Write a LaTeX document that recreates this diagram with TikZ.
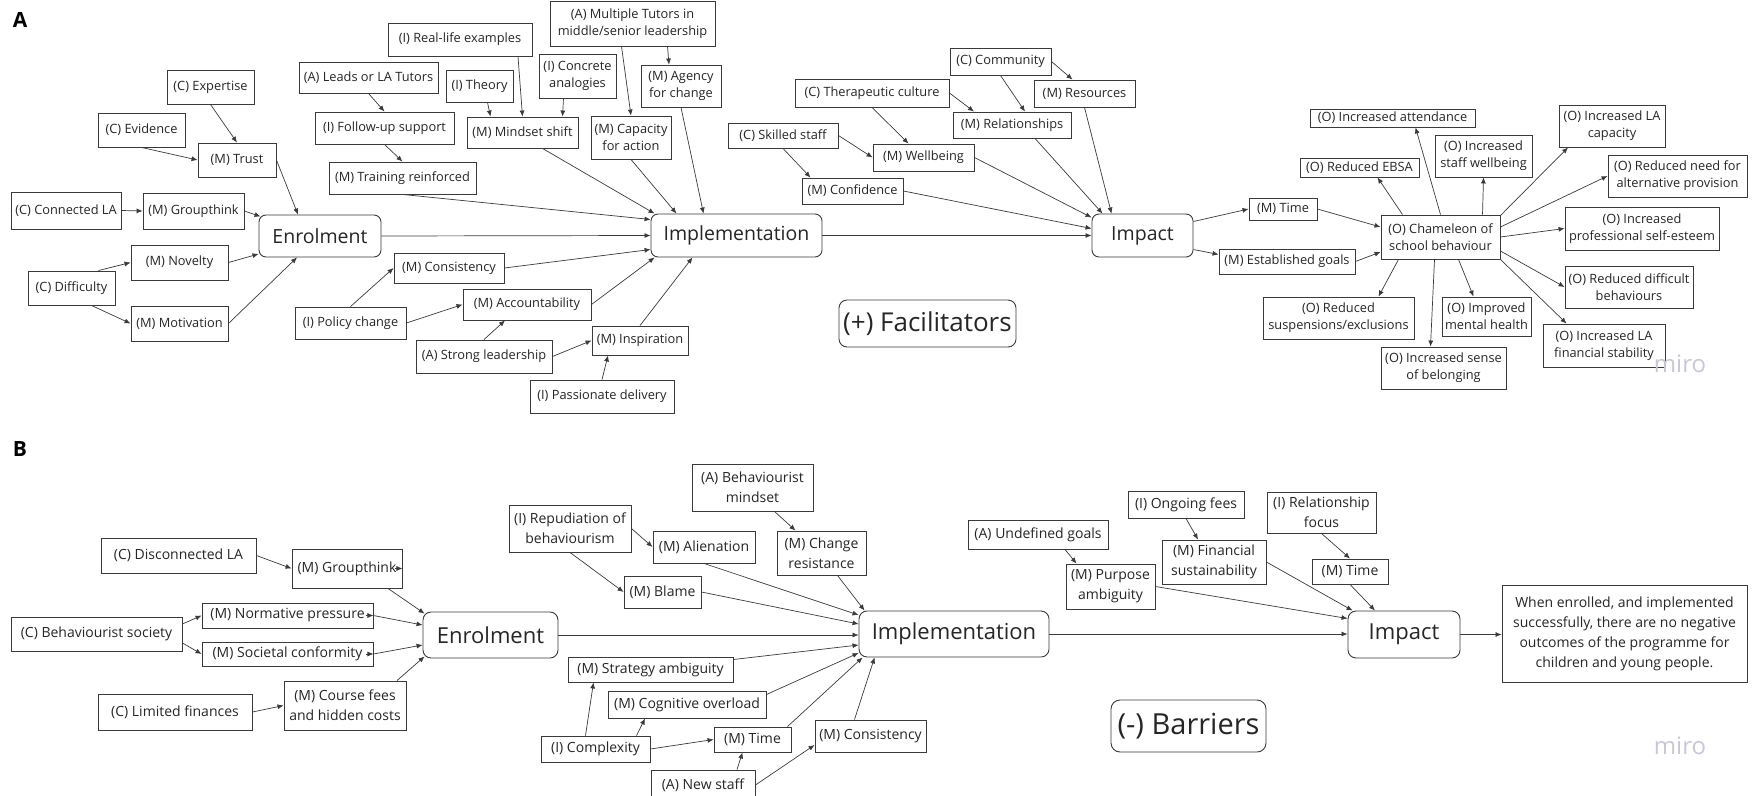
\documentclass[tikz,border=0pt]{standalone}
\usepackage{fontspec}
\setmainfont{Open Sans}
\usetikzlibrary{arrows.meta}
\definecolor{ln}{HTML}{3A3A3A}
\definecolor{tx}{HTML}{262626}
\definecolor{mirocol}{HTML}{C8C8D4}
\newcommand\fA{\fontsize{12.8}{17}\selectfont}
\newcommand\fB{\fontsize{14}{20}\selectfont}
\newcommand\mkbox[7]{\node[#2, minimum width={(#5-#3)*1pt}, minimum height={(#6-#4)*1pt}] (#1) at ({(#3+#5)/2},{(#4+#6)/2}) {#7};}
\tikzset{
 box/.style={draw=ln, line width=0.9pt, fill=white, text=tx, inner sep=1pt, align=center, font=\fA},
 boxb/.style={box, font=\fB},
 big/.style={box, rounded corners=7pt, font=\fontsize{19.5}{22}\selectfont},
 bigb/.style={box, rounded corners=8pt, font=\fontsize{22}{24}\selectfont},
 lbl/.style={box, rounded corners=8pt, font=\fontsize{26}{28}\selectfont},
 lblb/.style={box, rounded corners=9pt, font=\fontsize{29}{31}\selectfont},
 arr/.style={draw=ln, line width=0.7pt, -{Latex[length=6pt,width=5pt]}},
 wm/.style={text=mirocol, font=\fontsize{24}{24}\selectfont},
 sec/.style={text=black, font=\fontsize{21}{21}\selectfont\bfseries},
}
\begin{document}
\begin{tikzpicture}[x=1pt,y=-1pt]
\useasboundingbox (0,0) rectangle (1752,795);
% ---------------- Section A ----------------
\node[sec] (labA) at (20,20) {A};
\mkbox{expA}{box}{167}{70}{254}{104}{(C) Expertise}
\mkbox{evidA}{box}{98}{113}{185}{147}{(C) Evidence}
\mkbox{trustA}{box}{198}{143}{276}{177}{(M) Trust}
\mkbox{connA}{box}{11}{192}{121}{229}{(C) Connected LA}
\mkbox{groupA}{box}{143}{193}{244}{229}{(M) Groupthink}
\mkbox{enrolA}{big}{259}{215}{381}{257}{Enrolment}
\mkbox{novA}{box}{131}{245}{228}{280}{(M) Novelty}
\mkbox{diffA}{box}{28}{271}{115}{305}{(C) Difficulty}
\mkbox{motA}{box}{131}{306}{228}{341}{(M) Motivation}
\mkbox{leadsA}{box}{299}{62}{438}{93}{(A) Leads or LA Tutors}
\mkbox{followA}{box}{315}{112}{454}{144}{(I) Follow-up support}
\mkbox{trainA}{box}{329}{162}{476}{194}{(M) Training reinforced}
\mkbox{realA}{box}{388}{23}{532}{56}{(I) Real-life examples}
\mkbox{theoryA}{box}{446}{70}{513}{102}{(I) Theory}
\mkbox{concA}{box}{539}{54}{616}{98}{(I) Concrete\\analogies}
\mkbox{multiA}{box}{550}{1}{715}{46}{(A) Multiple Tutors in\\middle/senior leadership}
\mkbox{agencyA}{box}{641}{65}{721}{107}{(M) Agency\\for change}
\mkbox{mindA}{box}{467}{117}{578}{148}{(M) Mindset shift}
\mkbox{capA}{box}{591}{116}{671}{159}{(M) Capacity\\for action}
\mkbox{implA}{big}{651}{214}{822}{257}{Implementation}
\mkbox{consA}{box}{394}{253}{504}{283}{(M) Consistency}
\mkbox{policyA}{box}{295}{307}{406}{339}{(I) Policy change}
\mkbox{accA}{box}{463}{289}{591}{320}{(M) Accountability}
\mkbox{strongA}{box}{416}{340}{552}{373}{(A) Strong leadership}
\mkbox{inspA}{box}{592}{326}{688}{355}{(M) Inspiration}
\mkbox{passA}{box}{530}{380}{674}{413}{(I) Passionate delivery}
\mkbox{commA}{box}{950}{48}{1051}{75}{(C) Community}
\mkbox{resA}{box}{1034}{80}{1135}{107}{(M) Resources}
\mkbox{therA}{box}{795}{79}{949}{107}{(C) Therapeutic culture}
\mkbox{relA}{box}{953}{112}{1071}{138}{(M) Relationships}
\mkbox{skillA}{box}{728}{123}{838}{148}{(C) Skilled staff}
\mkbox{wellA}{box}{873}{144}{974}{171}{(M) Wellbeing}
\mkbox{confA}{box}{802}{178}{903}{204}{(M) Confidence}
\mkbox{impactA}{big}{1092}{214}{1193}{257}{Impact}
\mkbox{timeA}{box}{1249}{198}{1317}{220}{(M) Time}
\mkbox{estA}{box}{1219}{249}{1355}{274}{(M) Established goals}
\mkbox{chamA}{box}{1381}{215}{1500}{259}{(O) Chameleon of\\school behaviour}
\mkbox{attA}{box}{1310}{109}{1475}{127}{(O) Increased attendance}
\mkbox{ebsaA}{box}{1300}{158}{1419}{177}{(O) Reduced EBSA}
\mkbox{swellA}{box}{1435}{135}{1532}{177}{(O) Increased\\staff wellbeing}
\mkbox{lacapA}{box}{1559}{105}{1665}{147}{(O) Increased LA\\capacity}
\mkbox{needA}{box}{1608}{155}{1747}{197}{(O) Reduced need for\\alternative provision}
\mkbox{profA}{box}{1565}{207}{1719}{250}{(O) Increased\\professional self-esteem}
\mkbox{diffbA}{box}{1565}{266}{1693}{308}{(O) Reduced difficult\\behaviours}
\mkbox{suspA}{box}{1263}{297}{1414}{339}{(O) Reduced\\suspensions/exclusions}
\mkbox{mentA}{box}{1442}{297}{1531}{336}{(O) Improved\\mental health}
\mkbox{finA}{box}{1543}{324}{1665}{367}{(O) Increased LA\\financial stability}
\mkbox{belA}{box}{1381}{347}{1506}{389}{(O) Increased sense\\of belonging}
\mkbox{facil}{lbl}{839}{300}{1016}{347}{(+) Facilitators}
\node[wm] (miroA) at (1680,364) {miro};
% edges A
\draw[arr] (expA.south) -- (trustA.north);
\draw[arr] (evidA.south) -- (trustA.west);
\draw[arr] (trustA.east) -- ([xshift=-22pt]enrolA.north);
\draw[arr] (connA.east) -- (groupA.west);
\draw[arr] (groupA.east) -- ([xshift=2pt,yshift=-2pt]enrolA.north west);
\draw[arr] ([xshift=27pt]diffA.north) -- (novA.west);
\draw[arr] ([xshift=20pt]diffA.south) -- (motA.west);
\draw[arr] (novA.east) -- ([yshift=-18pt]enrolA.west);
\draw[arr] (motA.east) -- ([xshift=-23pt]enrolA.south);
\draw[arr] (enrolA.east) -- (implA.west);
\draw[arr] (leadsA.south) -- (followA.north);
\draw[arr] (followA.south) -- (trainA.north);
\draw[arr] (trainA.south) -- ([yshift=16pt]implA.west);
\draw[arr] ([xshift=8pt]theoryA.south) -- ([xshift=-32pt]mindA.north);
\draw[arr] ([xshift=58pt]realA.south) -- (mindA.north);
\draw[arr] ([xshift=-14pt]concA.south) -- ([xshift=40pt]mindA.north);
\draw[arr] ([xshift=20pt]mindA.south) -- ([xshift=4pt]implA.north west);
\draw[arr] ([xshift=-11pt]multiA.south) -- (capA.north);
\draw[arr] ([xshift=35pt]multiA.south) -- ([xshift=-12pt]agencyA.north);
\draw[arr] (capA.south) -- ([xshift=-60pt]implA.north);
\draw[arr] (agencyA.south) -- ([xshift=-33pt]implA.north);
\draw[arr] (policyA.north) -- (consA.west);
\draw[arr] (policyA.east) -- (accA.west);
\draw[arr] (consA.east) -- ([yshift=-14pt]implA.west);
\draw[arr] (accA.east) -- ([xshift=4pt]implA.south west);
\draw[arr] (strongA.north) -- ([xshift=-22pt]accA.south);
\draw[arr] (strongA.east) -- (inspA.west);
\draw[arr] (passA.north) -- ([xshift=-32pt]inspA.south);
\draw[arr] (inspA.north) -- ([xshift=-44pt]implA.south);
\draw[arr] (implA.east) -- (impactA.west);
\draw[arr] (skillA.east) -- (wellA.west);
\draw[arr] (skillA.south) -- ([xshift=-42pt]confA.north);
\draw[arr] (therA.south) -- ([xshift=-15pt]wellA.north);
\draw[arr] (therA.east) -- ([xshift=-38pt]relA.north);
\draw[arr] (commA.south) -- ([xshift=13pt]relA.north);
\draw[arr] (commA.east) -- ([xshift=-12pt]resA.north);
\draw[arr] (confA.east) -- ([yshift=7pt]impactA.west);
\draw[arr] (wellA.east) -- ([yshift=18pt]impactA.west);
\draw[arr] ([xshift=23pt]relA.south) -- ([xshift=-40pt]impactA.north);
\draw[arr] (resA.south) -- ([xshift=-31pt]impactA.north);
\draw[arr] ([yshift=14pt]impactA.east) -- (timeA.west);
\draw[arr] ([yshift=-14pt]impactA.east) -- ([yshift=7pt]estA.west);
\draw[arr] (timeA.east) -- ([yshift=10pt]chamA.west);
\draw[arr] (estA.east) -- ([yshift=-15pt]chamA.west);
\draw[arr] ([xshift=-38pt]chamA.north) -- ([xshift=18pt]ebsaA.south);
\draw[arr] (chamA.north) -- ([xshift=23pt]attA.south);
\draw[arr] ([xshift=42pt]chamA.north) -- (swellA.south);
\draw[arr] ([yshift=-1pt]chamA.north east) -- ([xshift=-44pt]lacapA.south);
\draw[arr] ([yshift=10pt]chamA.east) -- (needA.west);
\draw[arr] (chamA.east) -- (profA.west);
\draw[arr] ([yshift=-14pt]chamA.east) -- (diffbA.west);
\draw[arr] (chamA.south east) -- ([xshift=24pt]finA.north west);
\draw[arr] ([xshift=18pt]chamA.south) -- ([xshift=-13pt]mentA.north);
\draw[arr] ([xshift=-6pt]chamA.south) -- ([xshift=-13pt]belA.north);
\draw[arr] ([xshift=-42pt]chamA.south) -- ([xshift=40pt]suspA.north);
% ---------------- Section B ----------------
\node[sec] (labB) at (20,449) {B};
\mkbox{discB}{boxb}{101}{538}{256}{573}{(C) Disconnected LA}
\mkbox{groupB}{boxb}{292}{549}{402}{588}{(M) Groupthink}
\mkbox{normB}{boxb}{202}{603}{373}{628}{(M) Normative pressure}
\mkbox{behB}{boxb}{11}{617}{182}{651}{(C) Behaviourist society}
\mkbox{socB}{boxb}{202}{642}{373}{666}{(M) Societal conformity}
\mkbox{limB}{boxb}{98}{694}{252}{730}{(C) Limited finances}
\mkbox{feesB}{boxb}{284}{681}{406}{730}{(M) Course fees\\and hidden costs}
\mkbox{enrolB}{bigb}{423}{612}{558}{658}{Enrolment}
\mkbox{bmindB}{boxb}{692}{464}{813}{511}{(A) Behaviourist\\mindset}
\mkbox{repB}{boxb}{509}{505}{631}{552}{(I) Repudiation of\\behaviourism}
\mkbox{alienB}{boxb}{653}{531}{755}{563}{(M) Alienation}
\mkbox{changeB}{boxb}{777}{531}{866}{575}{(M) Change\\resistance}
\mkbox{blameB}{boxb}{624}{576}{701}{608}{(M) Blame}
\mkbox{implB}{bigb}{859}{611}{1049}{657}{Implementation}
\mkbox{stratB}{boxb}{568}{657}{733}{682}{(M) Strategy ambiguity}
\mkbox{cogB}{boxb}{608}{691}{766}{718}{(M) Cognitive overload}
\mkbox{complB}{boxb}{541}{736}{650}{762}{(I) Complexity}
\mkbox{timeB}{boxb}{714}{727}{791}{752}{(M) Time}
\mkbox{consB}{boxb}{815}{720}{926}{752}{(M) Consistency}
\mkbox{newB}{boxb}{651}{770}{755}{800}{(A) New staff}
\mkbox{undefB}{boxb}{968}{520}{1108}{549}{(A) Undefined goals}
\mkbox{purpB}{boxb}{1066}{564}{1155}{609}{(M) Purpose\\ambiguity}
\mkbox{ongB}{boxb}{1128}{491}{1244}{518}{(I) Ongoing fees}
\mkbox{finsB}{boxb}{1162}{540}{1266}{584}{(M) Financial\\sustainability}
\mkbox{relfB}{boxb}{1267}{492}{1376}{533}{(I) Relationship\\focus}
\mkbox{timeBb}{boxb}{1312}{559}{1388}{584}{(M) Time}
\mkbox{impactB}{bigb}{1348}{611}{1460}{658}{Impact}
\mkbox{finalB}{boxb}{1502}{585}{1747}{682}{When enrolled, and implemented\\successfully, there are no negative\\outcomes of the programme for\\children and young people.}
\mkbox{barr}{lblb}{1111}{700}{1266}{752}{(-) Barriers}
\node[wm] (miroB) at (1680,746) {miro};
% edges B
\draw[arr] (discB.east) -- (groupB.west);
\draw[arr] ([xshift=41pt]groupB.south) -- ([xshift=2pt,yshift=-2pt]enrolB.north west);
\draw[arr] ([yshift=10pt]behB.east) -- (normB.west);
\draw[arr] ([yshift=-9pt]behB.east) -- (socB.west);
\draw[arr] (normB.east) -- ([yshift=10pt]enrolB.west);
\draw[arr] (socB.east) -- ([yshift=-10pt]enrolB.west);
\draw[arr] (limB.east) -- (feesB.west);
\draw[arr] ([xshift=52pt]feesB.north) -- ([xshift=2pt,yshift=2pt]enrolB.south west);
\draw[arr] ([xshift=-7pt]groupB.east) -- (groupB.east);
\draw[arr] ([xshift=-7pt]normB.east) -- (normB.east);
\draw[arr] ([xshift=-7pt]socB.east) -- (socB.east);
\draw[arr] (enrolB.east) -- (enrolB.east -| implB.west);
\draw[arr] (repB.east) -- (alienB.west);
\draw[arr] (repB.south) -- (blameB.west);
\draw[arr] ([xshift=22pt]bmindB.south) -- ([xshift=-26pt]changeB.north);
\draw[arr] (alienB.south) -- ([yshift=19pt]implB.west);
\draw[arr] (blameB.east) -- ([yshift=10pt]implB.west);
\draw[arr] ([xshift=16pt]changeB.south) -- ([xshift=6pt]implB.north west);
\draw[arr] ([yshift=10pt]stratB.east) -- ([yshift=-11pt]implB.west);
\draw[arr] ([yshift=10pt]cogB.east) -- ([yshift=-19pt]implB.west);
\draw[arr] ([xshift=35pt]timeB.north) -- ([xshift=4pt]implB.south west);
\draw[arr] ([xshift=-16pt]consB.north) -- ([xshift=16pt]implB.south west);
\draw[arr] ([xshift=-10pt]complB.north) -- ([xshift=-57pt]stratB.south);
\draw[arr] ([xshift=41pt]complB.north) -- ([xshift=-42pt]cogB.south);
\draw[arr] (complB.east) -- (timeB.west);
\draw[arr] ([xshift=34pt]newB.north) -- ([xshift=-10pt]timeB.south);
\draw[arr] (newB.east) -- ([yshift=-9pt]consB.west);
\draw[arr] (implB.east) -- (implB.east -| impactB.west);
\draw[arr] ([xshift=27pt]undefB.south) -- ([xshift=-34pt]purpB.north);
\draw[arr] (ongB.south) -- ([xshift=-16pt]finsB.north);
\draw[arr] (relfB.south) -- (timeBb.north);
\draw[arr] (purpB.east) -- ([yshift=16pt]impactB.west);
\draw[arr] (finsB.east) -- ([xshift=5pt]impactB.north west);
\draw[arr] (timeBb.south) -- ([xshift=-29pt]impactB.north);
\draw[arr] (impactB.east) -- (impactB.east -| finalB.west);
\end{tikzpicture}
\end{document}
